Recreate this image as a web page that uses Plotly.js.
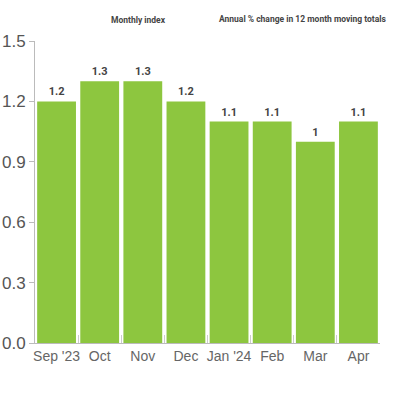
<!DOCTYPE html>
<html>
<head>
<meta charset="utf-8">
<script src="https://cdn.plot.ly/plotly-3.0.1.min.js"></script>
<style>
  html, body { margin: 0; padding: 0; background: #fff; }
  #plot { width: 400px; height: 400px; }
</style>
</head>
<body>
<div id="plot"></div>
<script>
var months = ["Sep '23", "Oct", "Nov", "Dec", "Jan '24", "Feb", "Mar", "Apr"];
var values = [1.2, 1.3, 1.3, 1.2, 1.1, 1.1, 1.0, 1.1];
var valueLabels = ["1.2", "1.3", "1.3", "1.2", "1.1", "1.1", "1", "1.1"];
var yTicks = [0, 0.3, 0.6, 0.9, 1.2, 1.5];

var trace = {
  type: "bar",
  x: months,
  y: values,
  text: valueLabels,
  textposition: "outside",
  cliponaxis: false,
  textfont: {family: "Roboto", size: 11, color: "#444", weight: "bold"},
  marker: {color: "#8dc63f"},
  hoverinfo: "none"
};

var layout = {
  width: 400,
  height: 400,
  margin: {l: 35, r: 20, t: 41, b: 57},
  paper_bgcolor: "#fff",
  plot_bgcolor: "#fff",
  showlegend: false,
  bargap: 0.1,
  font: {family: "Liberation Sans", color: "#555"},
  xaxis: {
    type: "category",
    showline: true,
    linecolor: "#bbb",
    linewidth: 1,
    ticks: "inside",
    tickson: "boundaries",
    ticklen: 8,
    tickcolor: "#ccc",
    tickangle: 0,
    tickfont: {size: 14, color: "#666"},
    showgrid: false
  },
  yaxis: {
    range: [0, 1.5],
    tickvals: yTicks,
    tickformat: ".1f",
    showline: true,
    linecolor: "#bbb",
    linewidth: 1,
    ticks: "outside",
    ticklen: 5,
    tickcolor: "#bbb",
    tickfont: {size: 17, color: "#555"},
    showgrid: false,
    zeroline: false
  },
  annotations: [
    {xref: "paper", yref: "paper", x: 0.3, y: 1.07, yanchor: "middle", text: "Monthly index",
     showarrow: false, xanchor: "center",
     font: {family: "Roboto", size: 8.5, color: "#444", weight: "bold"}},
    {xref: "paper", yref: "paper", x: 0.777, y: 1.073, yanchor: "middle", text: "Annual % change in 12 month moving totals",
     showarrow: false, xanchor: "center",
     font: {family: "Roboto", size: 8.5, color: "#444", weight: "bold"}}
  ]
};

Plotly.newPlot("plot", [trace], layout, {displayModeBar: false, staticPlot: true});
</script>
</body>
</html>
